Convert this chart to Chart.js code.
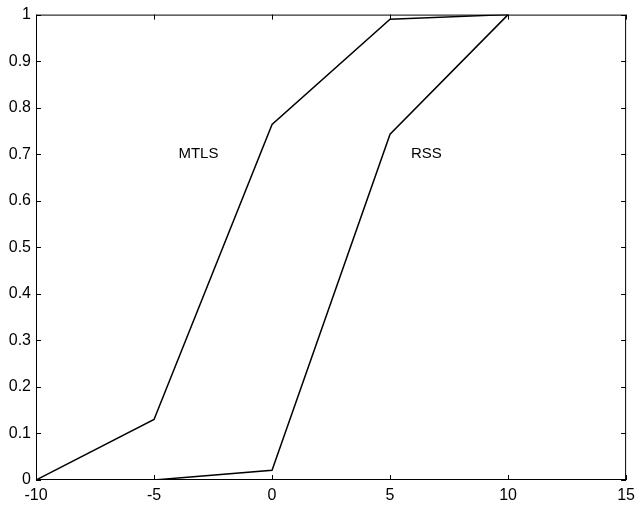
<!DOCTYPE html>
<html>
<head>
<meta charset="utf-8">
<script src="https://cdn.jsdelivr.net/npm/chart.js@4/dist/chart.umd.min.js"></script>
<style>
  html, body { margin: 0; padding: 0; background: #fff; }
  #wrap { width: 641px; height: 508px; }
</style>
</head>
<body>
<div id="wrap"><canvas id="chart"></canvas></div>
<script>
// values
const xValues = [-10, -5, 0, 5, 10];
const mtlsValues = [0, 0.13, 0.764, 0.99, 1];
const rssX = [-5, 0, 5, 10];
const rssValues = [0, 0.021, 0.743, 1];
const xTicks = [-10, -5, 0, 5, 10, 15];
const yTicks = [0, 0.1, 0.2, 0.3, 0.4, 0.5, 0.6, 0.7, 0.8, 0.9, 1];
const curveLabels = [
  { text: 'MTLS', x: -3.12, y: 0.70 },
  { text: 'RSS', x: 6.54, y: 0.70 }
];

const FONT = 'Arial, "Liberation Sans", sans-serif';

// matlab style frame with inward ticks on every side
const framePlugin = {
  id: 'frame',
  afterDatasetsDraw(chart) {
    const { ctx, chartArea: a, scales } = chart;
    const len = 5;
    ctx.save();
    ctx.strokeStyle = '#000';
    ctx.lineWidth = 1;
    ctx.strokeRect(a.left + 0.5, a.top + 0.5, a.right - a.left - 1, a.bottom - a.top - 1);
    ctx.beginPath();
    xTicks.forEach(v => {
      const px = Math.round(scales.x.getPixelForValue(v)) + 0.5;
      ctx.moveTo(px, a.bottom); ctx.lineTo(px, a.bottom - len);
      ctx.moveTo(px, a.top); ctx.lineTo(px, a.top + len);
    });
    yTicks.forEach(v => {
      const py = Math.round(scales.y.getPixelForValue(v)) + 0.5;
      ctx.moveTo(a.left, py); ctx.lineTo(a.left + len, py);
      ctx.moveTo(a.right, py); ctx.lineTo(a.right - len, py);
    });
    ctx.stroke();

    ctx.fillStyle = '#000';
    ctx.font = '15px ' + FONT;
    ctx.textAlign = 'center';
    ctx.textBaseline = 'middle';
    curveLabels.forEach(l => {
      ctx.fillText(l.text, scales.x.getPixelForValue(l.x), scales.y.getPixelForValue(l.y));
    });
    ctx.restore();
  }
};

new Chart(document.getElementById('chart'), {
  type: 'scatter',
  data: {
    datasets: [
      {
        label: 'MTLS',
        data: xValues.map((x, i) => ({ x, y: mtlsValues[i] })),
        showLine: true,
        borderColor: '#000',
        borderWidth: 1.5,
        pointRadius: 0,
        tension: 0
      },
      {
        label: 'RSS',
        data: rssX.map((x, i) => ({ x, y: rssValues[i] })),
        showLine: true,
        borderColor: '#000',
        borderWidth: 1.5,
        pointRadius: 0,
        tension: 0
      }
    ]
  },
  options: {
    responsive: true,
    maintainAspectRatio: false,
    animation: false,
    layout: { padding: { top: 9, right: 9, left: 0, bottom: 0 } },
    plugins: {
      legend: { display: false },
      tooltip: { enabled: false }
    },
    scales: {
      x: {
        type: 'linear',
        min: -10,
        max: 15,
        afterBuildTicks: s => { s.ticks = xTicks.map(v => ({ value: v })); },
        afterFit: s => { s.height = 28; },
        grid: { display: false, drawTicks: false },
        border: { display: false },
        ticks: {
          color: '#000',
          padding: 6,
          maxRotation: 0,
          font: { family: FONT, size: 16 }
        }
      },
      y: {
        type: 'linear',
        min: 0,
        max: 1,
        afterBuildTicks: s => { s.ticks = yTicks.map(v => ({ value: v })); },
        afterFit: s => { s.width = 36; },
        grid: { display: false, drawTicks: false },
        border: { display: false },
        ticks: {
          color: '#000',
          padding: 5,
          font: { family: FONT, size: 16 },
          callback: v => String(Math.round(v * 10) / 10)
        }
      }
    }
  },
  plugins: [framePlugin]
});
</script>
</body>
</html>
